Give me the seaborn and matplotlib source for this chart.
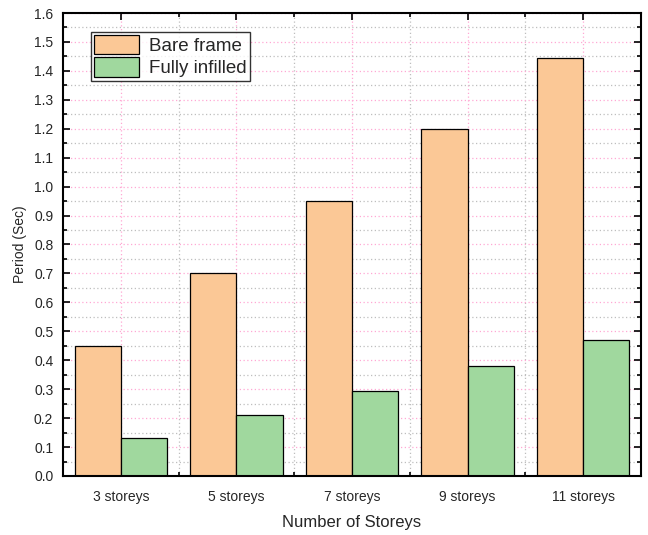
import pandas as pd
import numpy as np

import matplotlib.pyplot as plt
from matplotlib.ticker import MultipleLocator, FixedLocator
import seaborn as sns

# data
storeys = ['3 storeys', '5 storeys', '7 storeys', '9 storeys', '11 storeys']
bare_frame = [0.45, 0.70, 0.95, 1.20, 1.445]
fully_infilled = [0.13, 0.21, 0.295, 0.38, 0.47]
series = ['Bare frame', 'Fully infilled']
colors = ['#FBC896', '#A0D89E']

df = pd.DataFrame({
    'storeys': storeys * 2,
    'period': bare_frame + fully_infilled,
    'series': [series[0]] * len(storeys) + [series[1]] * len(storeys),
})

sns.set_style('white')
plt.rcParams['font.family'] = ['Liberation Sans', 'DejaVu Sans']

fig = plt.figure(figsize=(6.48, 5.35), dpi=100)
ax = fig.add_axes([0.0972, 0.1103, 0.8918, 0.8654])

sns.barplot(data=df, x='storeys', y='period', hue='series', order=storeys,
            hue_order=series, palette=colors, width=0.8, gap=0,
            edgecolor='black', linewidth=0.9, saturation=1, ax=ax)

ax.set_xlim(-0.5, len(storeys) - 0.5)
ax.set_ylim(0, 1.6)

# y ticks
ax.yaxis.set_minor_locator(MultipleLocator(0.05))
ax.set_yticks(np.arange(0, 1.61, 0.1))
ax.set_yticklabels([f'{v:.1f}' for v in np.arange(0, 1.61, 0.1)])

# x ticks: majors at categories, minors at the boundaries
ax.xaxis.set_minor_locator(FixedLocator(np.arange(0.5, len(storeys) - 0.5, 1)))

ax.set_axisbelow(True)
ax.grid(which='major', color='#FFA8D4', linestyle=(0, (1, 2)), linewidth=0.9)
ax.grid(which='minor', color='#BEBEBE', linestyle=(0, (1, 2)), linewidth=0.9)

ax.tick_params(which='both', direction='in', top=True, right=True,
               bottom=True, left=True, width=1.2, color='black')
ax.tick_params(which='major', length=5, labelsize=10)
ax.tick_params(axis='x', which='major', pad=10)
ax.tick_params(axis='y', which='major', pad=7)
ax.tick_params(which='minor', length=3)

for s in ax.spines.values():
    s.set_visible(True)
    s.set_linewidth(1.5)
    s.set_color('black')

ax.set_xlabel('Number of Storeys', fontsize=12, labelpad=8)
ax.set_ylabel('Period (Sec)', fontsize=10, labelpad=5)

leg = ax.legend(loc='upper left', bbox_to_anchor=(0.048, 0.96), fontsize=13.5,
                handlelength=2.4, handleheight=1.2, handletextpad=0.5,
                borderpad=0.2, labelspacing=0.12, borderaxespad=0,
                frameon=True, fancybox=False, edgecolor='black', title=None)
leg.get_frame().set_linewidth(1.0)

fig.savefig('out.png', dpi=100)
